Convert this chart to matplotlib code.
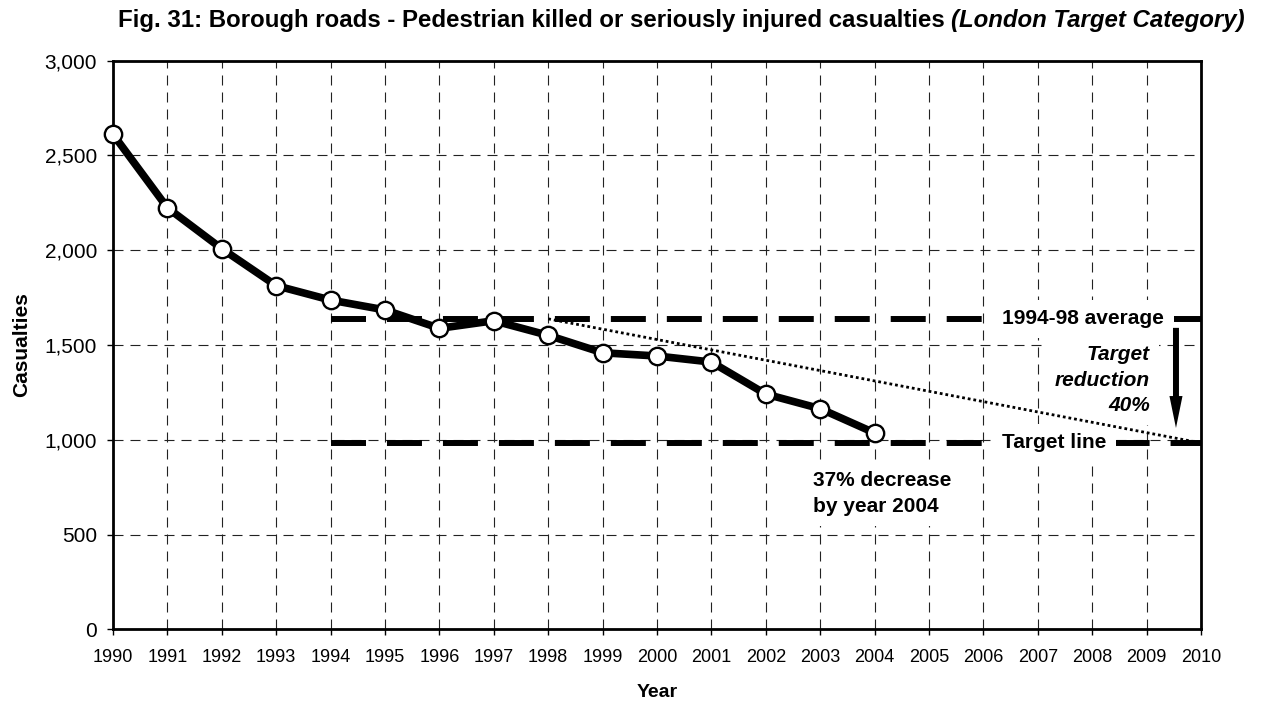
import matplotlib
matplotlib.use("Agg")
import matplotlib.pyplot as plt
from matplotlib.ticker import FuncFormatter

plt.rcParams['font.family'] = ['Liberation Sans', 'DejaVu Sans']

# ---- data ----
years = list(range(1990, 2005))
casualties = [2612, 2224, 2008, 1813, 1737, 1685, 1588, 1628, 1551, 1459, 1442, 1410, 1241, 1164, 1036]
average_value = 1638          # 1994-98 average
target_value = 983            # 40% reduction target
average_years = [1994, 2010]
trend_years = [1998, 2010]
x_ticks = list(range(1990, 2011))
y_ticks = [0, 500, 1000, 1500, 2000, 2500, 3000]

title_main = "Fig. 31: Borough roads - Pedestrian killed or seriously injured casualties "
title_ital = "(London Target Category)"

W, H = 1263, 702
fig = plt.figure(figsize=(W / 100, H / 100), dpi=100)
ax = fig.add_axes([113 / W, 1 - 629.3 / H, (1201 - 113) / W, (629.3 - 60.7) / H])

ax.set_xlim(1990, 2010)
ax.set_ylim(0, 3000)
ax.set_xticks(x_ticks)
ax.set_yticks(y_ticks)
ax.yaxis.set_major_formatter(FuncFormatter(lambda v, p: f"{int(v):,}"))
ax.tick_params(axis='y', labelsize=15, length=4.5, width=1, direction='out', pad=7)
ax.tick_params(axis='x', labelsize=13, length=4.5, width=1, direction='out', pad=10)
for s in ax.spines.values():
    s.set_linewidth(2)
    s.set_color('black')

ax.set_axisbelow(True)
ax.grid(True, color='#222222', lw=0.8, linestyle=(0, (9, 6.3)))

ax.set_ylabel("Casualties", fontsize=15, fontweight='bold', labelpad=9.5)
ax.set_xlabel("Year", fontsize=14, fontweight='bold', labelpad=12.5)

# reference lines
dlw = 4.3
ax.plot(average_years, [average_value] * 2, color='black', lw=dlw,
        linestyle=(0, (25.2 / dlw, 15.1 / dlw)), solid_capstyle='butt', zorder=2)
ax.plot(average_years, [target_value] * 2, color='black', lw=dlw,
        linestyle=(0, (25.2 / dlw, 15.1 / dlw)), solid_capstyle='butt', zorder=2)
ax.plot(trend_years, [average_value, target_value], color='black', lw=2.0,
        linestyle=(0, (1, 1.05)), zorder=4)

# main series
ax.plot(years, casualties, color='black', lw=5.5, marker='o', markersize=12.5,
        markerfacecolor='white', markeredgecolor='black', markeredgewidth=1.7,
        zorder=5, clip_on=False)

box = dict(boxstyle='square,pad=0.45', fc='white', ec='none')
ax.text(2006.35, average_value, "1994-98 average", fontsize=15, fontweight='bold',
        ha='left', va='center', bbox=box, zorder=3)
ax.text(2006.35, target_value, "Target line", fontsize=15, fontweight='bold',
        ha='left', va='center', bbox=box, zorder=3)
ax.text(2009.06, 1315, "Target\nreduction\n40%",
        fontsize=15, fontweight='bold', fontstyle='italic', ha='right', va='center',
        multialignment='right', linespacing=1.45, bbox=box, zorder=3)
ax.text(2002.86, 716, "37% decrease\nby year 2004", fontsize=15, fontweight='bold',
        ha='left', va='center', linespacing=1.48, bbox=box, zorder=3)

# arrow
ax.annotate('', xy=(2009.54, target_value), xytext=(2009.54, average_value),
            arrowprops=dict(arrowstyle='simple,head_length=23,head_width=9.4,tail_width=4.3',
                            mutation_scale=1, fc='black', ec='none', lw=0,
                            shrinkA=6.5, shrinkB=10.8), zorder=6)

# title with mixed style
t1 = fig.text(118 / W, 1 - 21 / H, title_main, fontsize=17.3, fontweight='bold',
              ha='left', va='center')
fig.canvas.draw()
bb = t1.get_window_extent(renderer=fig.canvas.get_renderer())
fig.text(bb.x1 / W, 1 - 21 / H, title_ital, fontsize=17.3, fontweight='bold',
         fontstyle='italic', ha='left', va='center')

fig.savefig("out.png", dpi=100)
